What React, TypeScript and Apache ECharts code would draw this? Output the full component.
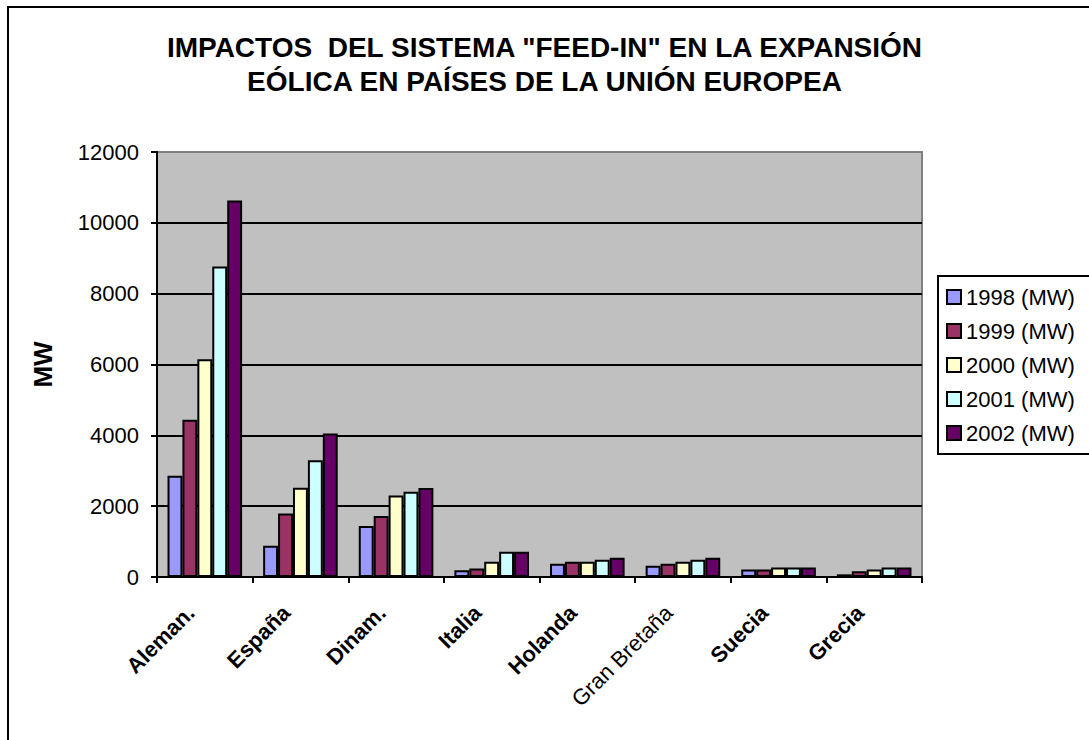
import React, { useEffect, useRef } from "react";
import * as echarts from "echarts";

const categories = ["Aleman.", "España", "Dinam.", "Italia", "Holanda", "Gran Bretaña", "Suecia", "Grecia"];
const seriesNames = ["1998 (MW)", "1999 (MW)", "2000 (MW)", "2001 (MW)", "2002 (MW)"];
const v1998 = [2860, 880, 1440, 190, 375, 320, 215, 75];
const v1999 = [4440, 1790, 1720, 240, 430, 375, 215, 160];
const v2000 = [6150, 2520, 2300, 430, 430, 430, 270, 215];
const v2001 = [8770, 3300, 2410, 710, 490, 490, 270, 270];
const v2002 = [10630, 4050, 2510, 710, 545, 545, 270, 270];
const seriesColors = ["#9999FF", "#993366", "#FFFFCC", "#CCFFFF", "#660066"];
const titleText = 'IMPACTOS  DEL SISTEMA "FEED-IN" EN LA EXPANSIÓN\nEÓLICA EN PAÍSES DE LA UNIÓN EUROPEA';

export default function App() {
  const ref = useRef<HTMLDivElement>(null);
  useEffect(() => {
    const chart = echarts.init(ref.current!, null, { renderer: "svg" });
    const allValues = [v1998, v1999, v2000, v2001, v2002];
    const font = "'Liberation Sans', Arial, sans-serif";
    chart.setOption({
      animation: false,
      backgroundColor: "#ffffff",
      title: {
        text: titleText,
        left: "center",
        top: 30,
        padding: [0, 0, 0, 24],
        textStyle: { fontFamily: font, fontSize: 28, fontWeight: "bold", color: "#000", lineHeight: 34 },
      },
      legend: {
        orient: "vertical",
        left: 938,
        top: 276,
        padding: [10, 16, 10, 8],
        itemWidth: 14,
        itemHeight: 14,
        itemGap: 12,
        itemTextGap: 6,
        icon: "rect",
        backgroundColor: "#fff",
        borderColor: "#000",
        borderWidth: 2,
        textStyle: { fontFamily: font, fontSize: 22, color: "#000" },
        data: seriesNames,
      },
      grid: {
        left: 157,
        right: 167,
        top: 152,
        bottom: 163,
        show: true,
        backgroundColor: "#C0C0C0",
        borderColor: "#808080",
        borderWidth: 2,
        outerBoundsMode: "none",
      },
      xAxis: {
        type: "category",
        data: categories,
        axisLine: { lineStyle: { color: "#000", width: 2 } },
        axisTick: { show: true, length: 6, lineStyle: { color: "#000", width: 2 } },
        axisLabel: {
          rotate: 45,
          margin: 18,
          interval: 0,
          fontFamily: font,
          formatter: (v: string) => (v === "Gran Bretaña" ? "{n|" + v + "}" : "{b|" + v + "}"),
          rich: {
            b: { fontFamily: font, fontSize: 22, fontWeight: "bold", color: "#000", padding: [0, 20, 0, 0] },
            n: { fontFamily: font, fontSize: 22, fontWeight: "normal", color: "#000", padding: [0, 20, 0, 0] },
          },
        },
      },
      yAxis: {
        type: "value",
        min: 0,
        max: 12000,
        interval: 2000,
        name: "MW",
        nameLocation: "middle",
        nameRotate: 90,
        nameGap: 101,
        nameTextStyle: { fontFamily: font, fontSize: 26, fontWeight: "bold", color: "#000" },
        axisLine: { show: true, lineStyle: { color: "#000", width: 2 } },
        axisTick: { show: true, length: 6, lineStyle: { color: "#000", width: 2 } },
        axisLabel: { margin: 18, fontFamily: font, fontSize: 22, color: "#000", formatter: (v: number) => String(v) },
        splitLine: { show: true, lineStyle: { color: "#000", width: 2 } },
      },
      graphic: [
        {
          type: "rect",
          z: 100,
          silent: true,
          shape: { x: 8, y: 7, width: 1300, height: 900 },
          style: { fill: "none", stroke: "#000", lineWidth: 2 },
        },
        {
          type: "line",
          z: 100,
          silent: true,
          shape: { x1: 158, y1: 152, x2: 922, y2: 152 },
          style: { stroke: "#808080", lineWidth: 2 },
        },
      ],
      series: seriesNames.map((name, i) => ({
        name,
        type: "bar",
        data: allValues[i],
        barGap: "0%",
        barCategoryGap: "22%",
        itemStyle: { color: seriesColors[i], borderColor: "#000", borderWidth: 2 },
      })),
    });
    return () => chart.dispose();
  }, []);
  return <div ref={ref} style={{ position: "absolute", left: 0, top: 0, width: 1089, height: 740 }} />;
}
